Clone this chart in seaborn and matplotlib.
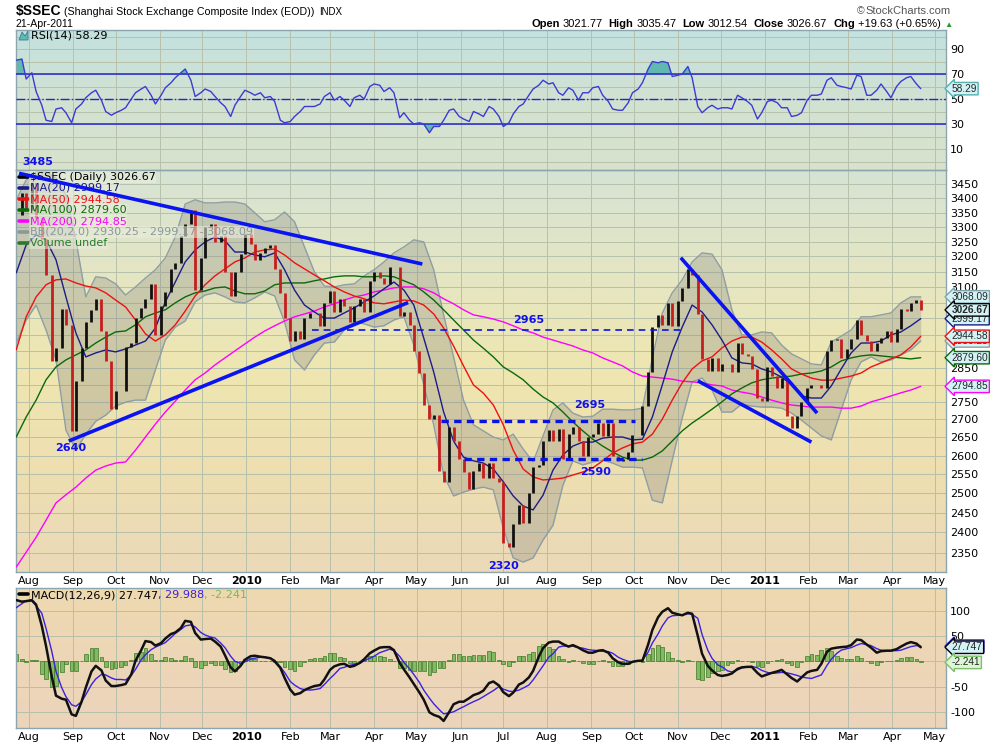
import matplotlib
matplotlib.use('Agg')
import numpy as np
import pandas as pd
import matplotlib.pyplot as plt
from matplotlib.colors import LinearSegmentedColormap
from matplotlib.lines import Line2D
from matplotlib.ticker import NullLocator, FixedLocator, FixedFormatter
import seaborn as sns

W, H = 990, 744

# ---- semi-weekly samples: Thu 23-Jul-2009, then Mon/Thu of every week ----
close_px = [
    3340,
    3420, 3360, 3460, 3330, 3260, 3140, 2870, 2910, 3030, 2980,
    2667, 2810, 2910, 2990, 3026, 3060, 2960, 2870, 2730, 2780,
    2780, 2911, 2925, 3000, 3034, 3060, 3110, 2950, 3040, 3085,
    3160, 3180, 3270, 3310, 3360, 3090, 3195, 3300, 3310, 3250,
    3270, 3150, 3070, 3150, 3210, 3277, 3243, 3190, 3212, 3230,
    3240, 3160, 3080, 3000, 2930, 2960, 2935, 3000, 3018, 3018,
    2975, 3050, 3087, 3020, 3060, 3040, 2990, 3040, 3060, 3020,
    3120, 3150, 3130, 3110, 3165, 3165, 3007, 3020, 2980, 2900,
    2835, 2740, 2700, 2712, 2560, 2530, 2680, 2640, 2590, 2555,
    2510, 2560, 2580, 2540, 2580, 2540, 2530, 2373, 2365, 2420,
    2470, 2424, 2500, 2570, 2575, 2640, 2670, 2640, 2672, 2590,
    2660, 2680, 2640, 2600, 2650, 2658, 2690, 2655, 2690, 2600,
    2585, 2590, 2610, 2656, 2656, 2738, 2836, 2972, 3010, 2980,
    3050, 2975, 3054, 3095, 3159, 3140, 3014, 2875, 2840, 2880,
    2840, 2860, 2860, 2837, 2925, 2890, 2885, 2845, 2760, 2752,
    2852, 2825, 2790, 2820, 2710, 2677, 2710, 2750, 2790, 2798,
    2798, 2790, 2900, 2932, 2935, 2878, 2905, 2935, 2995, 2950,
    2930, 2900, 2925, 2940, 2960, 2928, 2967, 3030, 3022, 3050,
    3057, 3026.67,
]

rsi14 = [
    81,
    82, 66, 71, 56, 45, 33, 32, 42, 43, 39,
    31, 42, 46, 51, 55, 57, 49, 40, 37, 39,
    41, 43, 50, 55, 58, 60, 53, 46, 53, 59,
    63, 67, 71, 74, 65, 52, 55, 58, 56, 52,
    47, 44, 36, 45, 52, 57, 55, 53, 55, 51,
    52, 48, 33, 31, 32, 36, 40, 44, 44, 44,
    46, 52, 55, 49, 52, 49, 44, 51, 53, 50,
    60, 62, 61, 56, 59, 55, 35, 39, 33, 30,
    31, 30, 23, 28, 28, 33, 41, 42, 36, 34,
    32, 40, 38, 36, 44, 42, 36, 28, 31, 38,
    44, 46, 53, 58, 61, 65, 62, 63, 55, 53,
    59, 57, 49, 55, 55, 59, 60, 53, 48, 42,
    41, 41, 47, 55, 58, 63, 74, 80, 79, 80,
    79, 68, 69, 70, 76, 67, 44, 39, 43, 45,
    42, 43, 43, 42, 53, 51, 48, 45, 34, 39,
    48, 49, 47, 43, 43, 36, 37, 39, 49, 53,
    53, 54, 65, 67, 61, 60, 59, 58, 69, 68,
    53, 53, 57, 62, 56, 51, 60, 64, 67, 68,
    62, 58.29,
]

macd_line = [
    121,
    118, 119, 121, 112, 70, 30, -30, -68, -74, -76,
    -105, -108, -80, -52, -20, -9, -18, -38, -49, -49,
    -47, -45, -26, 1, 22, 40, 38, 31, 36, 45,
    54, 57, 66, 80, 78, 56, 43, 44, 45, 39,
    29, 12, -12, -20, -9, 3, 10, 11, 9, 8,
    6, 0, -13, -33, -56, -66, -63, -57, -52, -49,
    -47, -36, -17, -10, -6, -5, -11, -9, -3, 4,
    16, 21, 27, 28, 28, 22, -3, -16, -32, -45,
    -62, -76, -101, -106, -110, -118, -100, -85, -80, -80,
    -73, -67, -63, -58, -43, -40, -48, -61, -69, -62,
    -46, -42, -32, -19, 9, 26, 37, 39, 39, 34,
    29, 32, 27, 22, 17, 17, 21, 22, 17, 6,
    -2, -5, -5, -1, 1, 1, 33, 62, 87, 98,
    105, 96, 93, 91, 96, 94, 50, 15, -9, -18,
    -27, -29, -27, -24, -15, -12, -11, -11, -23, -30,
    -26, -23, -20, -17, -26, -33, -40, -32, -22, -19,
    -17, -5, 19, 25, 27, 28, 29, 32, 43, 42,
    33, 27, 17, 20, 21, 21, 24, 29, 35, 38,
    35, 27.747,
]

macd_signal = [
    106,
    114, 120, 119, 110, 95, 65, 20, -20, -52, -70,
    -86, -89, -80, -66, -46, -35, -26, -27, -33, -36,
    -36, -37, -28, -16, 3, 13, 23, 28, 33, 37,
    47, 55, 63, 70, 72, 68, 57, 52, 48, 46,
    36, 27, 10, 0, -4, -1, 4, 6, 8, 8,
    6, 2, -11, -22, -40, -47, -54, -56, -57, -56,
    -54, -46, -34, -26, -14, -12, -8, -6, -4, 1,
    6, 10, 17, 20, 24, 21, 10, -2, -15, -26,
    -42, -57, -73, -84, -96, -104, -102, -100, -94, -90,
    -84, -80, -75, -70, -63, -58, -50, -55, -59, -60,
    -57, -53, -47, -37, -21, -9, 8, 15, 28, 30,
    30, 30, 27, 26, 23, 22, 21, 20, 19, 16,
    8, 4, 0, -1, 1, 2, 18, 36, 54, 70,
    86, 90, 91, 92, 94, 93, 85, 53, 22, 6,
    -7, -11, -19, -21, -17, -13, -11, -10, -13, -18,
    -22, -24, -23, -22, -23, -25, -28, -31, -33, -34,
    -30, -27, -8, 4, 16, 22, 25, 27, 32, 35,
    33, 31, 25, 22, 21, 21, 21, 22, 26, 29,
    31, 29.988,
]

# ---- weekly overlays (Thursdays from 23-Jul-2009) ----
ma20 = [3146, 3239, 3273, 3256, 3189, 3068, 2955, 2882, 2894, 2903,
        2897, 2906, 2918, 2930, 2970, 3052, 3116, 3182, 3222, 3249,
        3266, 3253, 3215, 3215, 3205, 3199, 3212, 3156, 3090, 3042,
        3020, 3001, 3001, 3017, 3033, 3052, 3071, 3094, 3116, 3090,
        3042, 2939, 2837, 2721, 2640, 2596, 2586, 2580, 2564, 2530,
        2493, 2467, 2457, 2495, 2561, 2602, 2626, 2637, 2637, 2648,
        2651, 2651, 2643, 2645, 2707, 2799, 2897, 2973, 3042, 3020,
        2980, 2933, 2879, 2864, 2861, 2846, 2837, 2822, 2799, 2767,
        2761, 2761, 2796, 2846, 2894, 2924, 2924, 2930, 2949, 2958,
        2977, 2999.17]
ma50 = [2903, 3005, 3068, 3107, 3123, 3126, 3113, 3103, 3097, 3081,
        3058, 3036, 2995, 2952, 2930, 2949, 2980, 3023, 3071, 3107,
        3136, 3159, 3182, 3195, 3215, 3222, 3225, 3205, 3179, 3159,
        3139, 3120, 3100, 3084, 3071, 3062, 3049, 3046, 3052, 3058,
        3055, 3042, 3014, 2970, 2915, 2855, 2799, 2775, 2741, 2685,
        2615, 2564, 2543, 2535, 2537, 2540, 2548, 2556, 2567, 2586,
        2607, 2621, 2632, 2637, 2659, 2701, 2755, 2805, 2846, 2870,
        2882, 2909, 2930, 2942, 2942, 2927, 2903, 2876, 2846, 2831,
        2819, 2813, 2813, 2819, 2825, 2834, 2852, 2864, 2876, 2888,
        2912, 2944.58]
ma100 = [2651, 2707, 2755, 2814, 2852, 2873, 2888, 2903, 2924, 2942,
         2958, 2961, 2980, 3005, 3017, 3027, 3049, 3068, 3081, 3087,
         3097, 3100, 3087, 3078, 3078, 3087, 3107, 3113, 3113, 3113,
         3120, 3126, 3133, 3136, 3136, 3133, 3133, 3136, 3133, 3120,
         3107, 3084, 3058, 3027, 2995, 2964, 2933, 2908, 2882, 2852,
         2834, 2814, 2787, 2764, 2747, 2721, 2693, 2668, 2645, 2626,
         2610, 2596, 2588, 2588, 2596, 2613, 2640, 2668, 2690, 2709,
         2729, 2750, 2773, 2790, 2805, 2814, 2819, 2822, 2825, 2831,
         2834, 2840, 2852, 2870, 2879, 2885, 2888, 2885, 2882, 2879,
         2876, 2879.60]
ma200 = [2315, 2351, 2388, 2431, 2475, 2496, 2516, 2540, 2561, 2572,
         2580, 2583, 2615, 2651, 2687, 2721, 2752, 2784, 2814, 2834,
         2858, 2879, 2900, 2921, 2942, 2961, 2977, 2992, 3005, 3014,
         3023, 3036, 3046, 3058, 3068, 3074, 3084, 3090, 3097, 3100,
         3100, 3094, 3081, 3062, 3046, 3027, 3011, 3005, 2998, 2989,
         2977, 2964, 2955, 2942, 2933, 2924, 2915, 2903, 2894, 2879,
         2867, 2855, 2837, 2825, 2822, 2819, 2816, 2810, 2808, 2805,
         2799, 2796, 2784, 2778, 2773, 2764, 2755, 2747, 2741, 2738,
         2735, 2735, 2735, 2732, 2732, 2738, 2750, 2758, 2767, 2776,
         2784, 2794.85]
bb_upper = [3395, 3466, 3495, 3495, 3473, 3412, 3256, 3068, 3133, 3129,
            3110, 3074, 3100, 3129, 3156, 3195, 3266, 3380, 3395, 3384,
            3384, 3387, 3387, 3380, 3349, 3318, 3325, 3352, 3318, 3232,
            3149, 3103, 3100, 3107, 3110, 3136, 3156, 3182, 3212, 3232,
            3256, 3249, 3156, 3011, 2882, 2755, 2685, 2668, 2651, 2643,
            2659, 2618, 2583, 2654, 2727, 2747, 2718, 2707, 2709, 2729,
            2729, 2727, 2727, 2732, 2879, 3017, 3081, 3123, 3182, 3212,
            3208, 3156, 3027, 2949, 2949, 2958, 2955, 2918, 2891, 2876,
            2861, 2858, 2927, 2945, 2964, 3005, 3005, 3011, 3017, 3049,
            3068, 3068.09]
bb_lower = [2924, 2995, 3042, 2964, 2873, 2670, 2615, 2659, 2695, 2712,
            2738, 2749, 2755, 2755, 2843, 2933, 2973, 2992, 3052, 3074,
            3081, 3068, 3052, 3049, 3065, 3084, 3071, 2989, 2873, 2843,
            2888, 2924, 2927, 2964, 2989, 2983, 2973, 2977, 2995, 3005,
            2918, 2799, 2685, 2548, 2493, 2503, 2511, 2516, 2509, 2411,
            2337, 2327, 2337, 2381, 2418, 2521, 2586, 2575, 2583, 2588,
            2580, 2569, 2569, 2567, 2482, 2475, 2588, 2704, 2808, 2819,
            2784, 2721, 2721, 2744, 2738, 2735, 2735, 2732, 2718, 2698,
            2676, 2654, 2643, 2727, 2814, 2867, 2882, 2867, 2873, 2888,
            2903, 2930.25]

# ---- hand-drawn annotations ----
trend_from_dates = ['2009-07-25', '2009-08-29', '2010-11-03', '2010-11-15']
trend_from_vals = [3490, 2640, 3196, 2811]
trend_to_dates = ['2010-05-05', '2010-04-25', '2011-02-07', '2011-02-03']
trend_to_vals = [3175, 3050, 2718, 2637]
level_vals = [2965, 2695, 2590]
level_from = ['2010-02-16', '2010-05-18', '2010-06-03']
level_to = ['2010-11-03', '2010-10-02', '2010-10-07']
note_texts = ['3485', '2640', '2965', '2695', '2590', '2320']
note_dates = ['2009-08-07', '2009-08-30', '2010-07-19', '2010-08-31', '2010-09-04', '2010-07-01']
note_vals = [3530, 2621, 2996, 2742, 2557, 2318]

week_dates = pd.date_range('2009-07-23', periods=len(ma20), freq='7D')
bar_dates = week_dates.append(week_dates[1:] - pd.Timedelta(days=3)).sort_values()
assert len(bar_dates) == len(close_px) == len(rsi14) == len(macd_line) == len(macd_signal)

sns.set_style('white')
plt.rcParams['font.family'] = ['DejaVu Sans']
plt.rcParams['axes.unicode_minus'] = False

fig = plt.figure(figsize=(W / 100, H / 100), dpi=100)


def fx(px):
    return px / W


def fy(py):
    return 1 - py / H


def rect(top, bottom):
    return [fx(16), fy(bottom), fx(946) - fx(16), fy(top) - fy(bottom)]


def panel_bg(r, stops):
    bg = fig.add_axes(r)
    bg.set_axis_off()
    cmap = LinearSegmentedColormap.from_list('bg', stops)
    bg.imshow(np.linspace(0, 1, 256).reshape(-1, 1), cmap=cmap, aspect='auto',
              extent=(0, 1, 0, 1), interpolation='bilinear')
    bg.set_xlim(0, 1)
    bg.set_ylim(0, 1)


r_rsi, r_px, r_macd = rect(30, 170), rect(170, 572), rect(588, 728)
panel_bg(r_rsi, ['#c3e1df', '#d2e2d2', '#d8e3cc'])
panel_bg(r_px, ['#d6e3d4', '#e4e6c4', '#efe6b0', '#eedfb2', '#ebd9b8'])
panel_bg(r_macd, ['#eed9b0', '#ecd4bc'])

ax_rsi = fig.add_axes(r_rsi)
ax_px = fig.add_axes(r_px)
ax_macd = fig.add_axes(r_macd)

grid_c = '#b7c0aa'
edge_c = '#8ea5ad'
xmin, xmax = pd.Timestamp('2009-07-22 20:00'), pd.Timestamp('2011-05-08 19:00')
month_starts = pd.date_range('2009-08-01', '2011-05-01', freq='MS')
month_labels = [d.strftime('%Y') if d.month == 1 else d.strftime('%b') for d in month_starts]

for ax in (ax_rsi, ax_px, ax_macd):
    ax.set_facecolor('none')
    ax.set_xlim(xmin, xmax)
    ax.set_xticks(month_starts)
    ax.set_xticklabels(month_labels)
    ax.grid(True, color=grid_c, lw=0.7)
    ax.set_axisbelow(True)
    for s in ax.spines.values():
        s.set_color(edge_c)
        s.set_linewidth(1)
    ax.yaxis.tick_right()
    ax.tick_params(axis='both', length=0, labelsize=8, colors='black')
    ax.tick_params(axis='y', pad=3)
    ax.tick_params(axis='x', pad=3)
    for lab in ax.get_xticklabels():
        if lab.get_text().isdigit():
            lab.set_fontweight('bold')
ax_rsi.tick_params(axis='x', labelbottom=False)

# ---------------- RSI ----------------
rsi_arr = np.array(rsi14, dtype=float)
ax_rsi.set_ylim(-6.8, 105.2)
ax_rsi.yaxis.set_major_locator(FixedLocator(list(range(0, 101, 10))))
ax_rsi.yaxis.set_major_formatter(FixedFormatter([str(v) if v in (10, 30, 50, 70, 90) else ''
                                                 for v in range(0, 101, 10)]))
ax_rsi.fill_between(bar_dates, rsi_arr, 70, where=rsi_arr > 70, interpolate=True,
                    color='#5fb9b1', lw=0, zorder=2)
ax_rsi.fill_between(bar_dates, rsi_arr, 30, where=rsi_arr < 30, interpolate=True,
                    color='#5fb9b1', lw=0, zorder=2)
ax_rsi.axhline(70, color='#2323d0', lw=1.1, zorder=3)
ax_rsi.axhline(30, color='#2323d0', lw=1.1, zorder=3)
ax_rsi.axhline(50, color='#2323d0', lw=1.0, ls='-.', zorder=3)
sns.lineplot(x=bar_dates, y=rsi_arr, ax=ax_rsi, color='#3b3bd2', linewidth=1.0, zorder=4)

# ---------------- Price ----------------
ax_px.set_yscale('log')
ax_px.set_ylim(2303, 3502)
pticks = list(range(2350, 3451, 50))
hidden = {2800, 2900, 2950, 3000, 3050}   # covered by the value tags
ax_px.yaxis.set_major_locator(FixedLocator(pticks))
ax_px.yaxis.set_major_formatter(FixedFormatter(['' if v in hidden else str(v) for v in pticks]))
ax_px.yaxis.set_minor_locator(NullLocator())

ax_px.fill_between(week_dates, bb_lower, bb_upper, color='#8d8d86', alpha=0.33, lw=0, zorder=1)
ax_px.plot(week_dates, bb_upper, color='#8e9ea2', lw=1.0, zorder=1.5)
ax_px.plot(week_dates, bb_lower, color='#8e9ea2', lw=1.0, zorder=1.5)
for series, col in ((ma200, '#ff00ff'), (ma100, '#0a6a0a'), (ma50, '#ee1111'), (ma20, '#1c1c88')):
    sns.lineplot(x=week_dates, y=series, ax=ax_px, color=col, linewidth=1.0, zorder=3)

close = np.array(close_px, dtype=float)
prev = np.r_[close[0], close[:-1]]
bar_col = np.where(close >= prev, '#111111', '#c41f1f')
ax_px.vlines(bar_dates, np.minimum(prev, close), np.maximum(prev, close),
             colors=bar_col, linewidth=2.0, zorder=4)

for d0, v0, d1, v1 in zip(trend_from_dates, trend_from_vals, trend_to_dates, trend_to_vals):
    ax_px.plot([pd.Timestamp(d0), pd.Timestamp(d1)], [v0, v1], color='#0a14f0', lw=2.6,
               solid_capstyle='butt', zorder=6)
for v, d0, d1, lw, dash in zip(level_vals, level_from, level_to, (1.2, 2.4, 2.4),
                               ((4, 3), (2.2, 1.6), (2.2, 1.6))):
    ax_px.plot([pd.Timestamp(d0), pd.Timestamp(d1)], [v, v], color='#0a14e0', lw=lw,
               dashes=dash, zorder=6)
for t, d, v in zip(note_texts, note_dates, note_vals):
    ax_px.text(pd.Timestamp(d), v, t, color='#1010ee', fontsize=8, fontweight='bold',
               ha='center', va='center', zorder=7, clip_on=False)

# ---------------- MACD ----------------
m_line = np.array(macd_line, dtype=float)
m_sig = np.array(macd_signal, dtype=float)
ax_macd.set_ylim(-132, 145)
ax_macd.yaxis.set_major_locator(FixedLocator([-100, -50, 0, 50, 100]))
ax_macd.yaxis.set_major_formatter(FixedFormatter(['-100', '-50', '', '50', '100']))
ax_macd.bar(bar_dates, m_line - m_sig, width=2.6, color='#85b862', edgecolor='#3c7a26',
            linewidth=0.5, zorder=2)
sns.lineplot(x=bar_dates, y=m_sig, ax=ax_macd, color='#3a22e0', linewidth=1.0, zorder=3)
sns.lineplot(x=bar_dates, y=m_line, ax=ax_macd, color='#111111', linewidth=1.8, zorder=4)

for ax in (ax_rsi, ax_px, ax_macd):
    ax.set_xlabel('')
    ax.set_ylabel('')
    ax.set_xlim(xmin, xmax)


# ---------------- right-hand value tags ----------------
def tag(ax, val, label, edge, face='#d3f2f5', bold=False):
    ax.annotate(label, xy=(1, val), xycoords=('axes fraction', 'data'), xytext=(4, 0),
                textcoords='offset points', ha='left', va='center', fontsize=7.3,
                family=['Liberation Sans', 'DejaVu Sans'],
                fontweight='bold' if bold else 'normal',
                bbox=dict(boxstyle='larrow,pad=0.12', fc=face, ec=edge, lw=1),
                annotation_clip=False, zorder=10)


tag(ax_px, 3068.09, '3068.09', '#7fa6b0')
tag(ax_px, 2999.17, '2999.17', '#1c1c88')
tag(ax_px, 3026.67, '3026.67', '#000000', bold=True)
tag(ax_px, 2930.25, '2930.25', '#8e9ea2')
tag(ax_px, 2944.58, '2944.58', '#ee1111')
tag(ax_px, 2879.60, '2879.60', '#0a6a0a')
tag(ax_px, 2794.85, '2794.85', '#ff00ff')
tag(ax_rsi, 58.29, '58.29', '#55b0b0')
tag(ax_macd, 29.988, '29.988', '#3a22e0')
tag(ax_macd, 27.747, '27.747', '#000000')
tag(ax_macd, -2.241, '-2.241', '#7cc06a', face='#dcf6d6')

# ---------------- texts ----------------
renderer = fig.canvas.get_renderer()


def text_run(x, y, pieces, family):
    for s, color, weight, size, gap in pieces:
        t = fig.text(fx(x), fy(y), s, color=color, fontweight=weight, fontsize=size,
                     family=family, ha='left', va='baseline')
        x = t.get_window_extent(renderer).x1 + gap
    return x


hdr = ['Liberation Sans', 'DejaVu Sans']
text_run(16, 15, [('$SSEC', 'black', 'bold', 10, 3),
                  ('(Shanghai Stock Exchange Composite Index (EOD))', 'black', 'normal', 7.65, 4),
                  ('INDX', 'black', 'normal', 7, 0)], hdr)
text_run(16, 27, [('21-Apr-2011', 'black', 'normal', 7.6, 0)], hdr)
text_run(857, 14.5, [('\u00a9', '#555555', 'normal', 7.5, 1),
                     ('StockCharts.com', '#555555', 'normal', 8, 0)], hdr)
text_run(531, 27, [('Open', 'black', 'bold', 8, 3), ('3021.77', 'black', 'normal', 8, 6),
                   ('High', 'black', 'bold', 8, 3), ('3035.47', 'black', 'normal', 8, 6),
                   ('Low', 'black', 'bold', 8, 3), ('3012.54', 'black', 'normal', 8, 6),
                   ('Close', 'black', 'bold', 8, 3), ('3026.67', 'black', 'normal', 8, 6),
                   ('Chg', 'black', 'bold', 8, 3), ('+19.63 (+0.65%)', 'black', 'normal', 8, 3),
                   ('\u25b2', '#2a9a2a', 'normal', 6, 0)], hdr)


# panel legends (inside the price axes so the trend lines stay on top)
def pax(px, py):
    return (px - 16) / 930, (572 - py) / 402


leg_rows = [
    ('$SSEC (Daily) 3026.67', '#000000', 177),
    ('MA(20) 2999.17', '#1c1c88', 188),
    ('MA(50) 2944.58', '#ee1111', 199),
    ('MA(100) 2879.60', '#0a6a0a', 210),
    ('MA(200) 2794.85', '#ff00ff', 221),
    ('BB(20,2.0) 2930.25 - 2999.17 - 3068.09', '#8a9898', 232),
    ('Volume undef', '#2a7a2a', 243),
]
for label, col, y in leg_rows:
    (x0, y0), (x1, _) = pax(19, y), pax(28, y)
    ax_px.plot([x0, x1], [y0, y0], color=col, lw=2.6, transform=ax_px.transAxes, zorder=5)
    tx, ty = pax(30, y)
    ax_px.text(tx, ty, label, color=col, fontsize=8, ha='left', va='center', zorder=5,
               transform=ax_px.transAxes,
               bbox=dict(boxstyle='square,pad=0.05', fc='#eaeedd', ec='none', alpha=0.55))

fig.add_artist(plt.Polygon([[fx(19), fy(40)], [fx(22), fy(32)], [fx(25), fy(36)],
                            [fx(28), fy(31)], [fx(28), fy(40)]], closed=True,
                           fc='#5fb9b1', ec='#3a7a9a', lw=0.6, zorder=5))
fig.text(fx(31), fy(36), 'RSI(14) 58.29', color='black', fontsize=8, ha='left', va='center')

fig.add_artist(Line2D([fx(19), fx(28)], [fy(594), fy(594)], color='black', lw=2.6, zorder=5))
text_run(31, 598, [('MACD(12,26,9) 27.747', 'black', 'normal', 8, 0),
                   (', 29.988', '#3a22e0', 'normal', 8, 0),
                   (', -2.241', '#77bb55', 'normal', 8, 0)], ['DejaVu Sans'])

fig.savefig('out.png', dpi=100)
